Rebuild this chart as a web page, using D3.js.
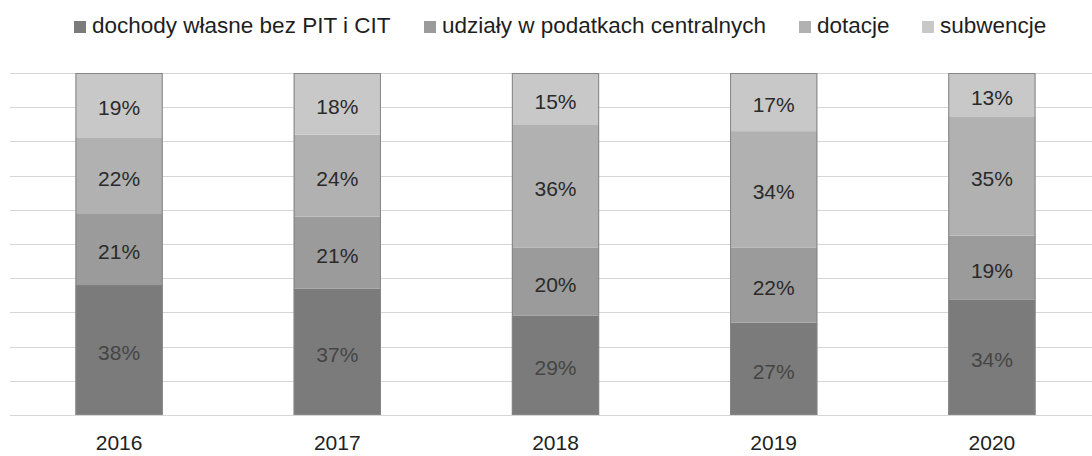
<!DOCTYPE html>
<html>
<head>
<meta charset="utf-8">
<script src="https://cdn.jsdelivr.net/npm/d3@7"></script>
<style>
  body { margin: 0; background: #fff; }
  text { font-family: "Liberation Sans", Arial, sans-serif; }
</style>
</head>
<body>
<script>
var years = ["2016", "2017", "2018", "2019", "2020"];
var seriesNames = ["dochody własne bez PIT i CIT", "udziały w podatkach centralnych", "dotacje", "subwencje"];
var dochody = [38, 37, 29, 27, 34];
var udzialy = [21, 21, 20, 22, 19];
var dotacje = [22, 24, 36, 34, 35];
var subwencje = [19, 18, 15, 17, 13];
var colors = ["#7b7b7b", "#9b9b9b", "#b1b1b1", "#c8c8c8"];
var gridTicks = d3.range(0, 1.01, 0.1);

var w = 1092, h = 456;
var keys = ["dochody", "udzialy", "dotacje", "subwencje"];
var rows = years.map(function (y, i) {
    return { year: y, dochody: dochody[i], udzialy: udzialy[i], dotacje: dotacje[i], subwencje: subwencje[i] };
});

var stack = d3.stack().keys(keys).offset(d3.stackOffsetExpand);
var layers = stack(rows);

var x = d3.scaleBand().domain(years).range([10, 1101]).paddingInner(0.6).paddingOuter(0.3);
var y = d3.scaleLinear().domain([0, 1]).range([415, 73]);

var svg = d3.select("body").append("svg")
    .attr("width", w)
    .attr("height", h);

// gridlines
svg.append("g").selectAll("line")
    .data(gridTicks)
    .enter().append("line")
    .attr("x1", 10)
    .attr("x2", w)
    .attr("y1", function (d) { return Math.round(y(d)) + 0.5; })
    .attr("y2", function (d) { return Math.round(y(d)) + 0.5; })
    .attr("stroke", "#d6d6d6")
    .attr("stroke-width", 1);

var layer = svg.append("g").selectAll("g")
    .data(layers)
    .enter().append("g")
    .attr("fill", function (d, i) { return colors[i]; });

layer.selectAll("rect")
    .data(function (d) { return d; })
    .enter().append("rect")
    .attr("x", function (d) { return x(d.data.year); })
    .attr("width", x.bandwidth())
    .attr("y", function (d) { return y(d[1]); })
    .attr("height", function (d) { return y(d[0]) - y(d[1]); });

// bar outlines
svg.append("g").selectAll("rect")
    .data(years)
    .enter().append("rect")
    .attr("x", function (d) { return x(d) + 0.5; })
    .attr("width", x.bandwidth() - 1)
    .attr("y", y(1) + 0.5)
    .attr("height", y(0) - y(1) - 1)
    .attr("fill", "none")
    .attr("stroke", "#858585")
    .attr("stroke-width", 1);

// percent labels
layers.forEach(function (l, li) {
    svg.append("g").selectAll("text")
        .data(l)
        .enter().append("text")
        .attr("x", function (d) { return x(d.data.year) + x.bandwidth() / 2; })
        .attr("y", function (d) { return (y(d[0]) + y(d[1])) / 2 + 10; })
        .attr("text-anchor", "middle")
        .attr("font-size", 21)
        .attr("fill", li === 0 ? "#454545" : "#2a2a2a")
        .text(function (d) { return d.data[l.key] + "%"; });
});

// year axis
svg.append("g").selectAll("text")
    .data(years)
    .enter().append("text")
    .attr("x", function (d) { return x(d) + x.bandwidth() / 2; })
    .attr("y", 450)
    .attr("text-anchor", "middle")
    .attr("font-size", 21)
    .attr("fill", "#222")
    .text(function (d) { return d; });

// legend
var legendX = [74, 424, 799, 922];
var leg = svg.append("g").selectAll("g")
    .data(seriesNames)
    .enter().append("g")
    .attr("transform", function (d, i) { return "translate(" + legendX[i] + ",0)"; });

leg.append("rect")
    .attr("x", 0)
    .attr("y", 21)
    .attr("width", 12)
    .attr("height", 12)
    .attr("fill", function (d, i) { return colors[i]; });

leg.append("text")
    .attr("x", 18)
    .attr("y", 33)
    .attr("font-size", 22.5)
    .attr("fill", "#1e1e1e")
    .text(function (d) { return d; });
</script>
</body>
</html>
